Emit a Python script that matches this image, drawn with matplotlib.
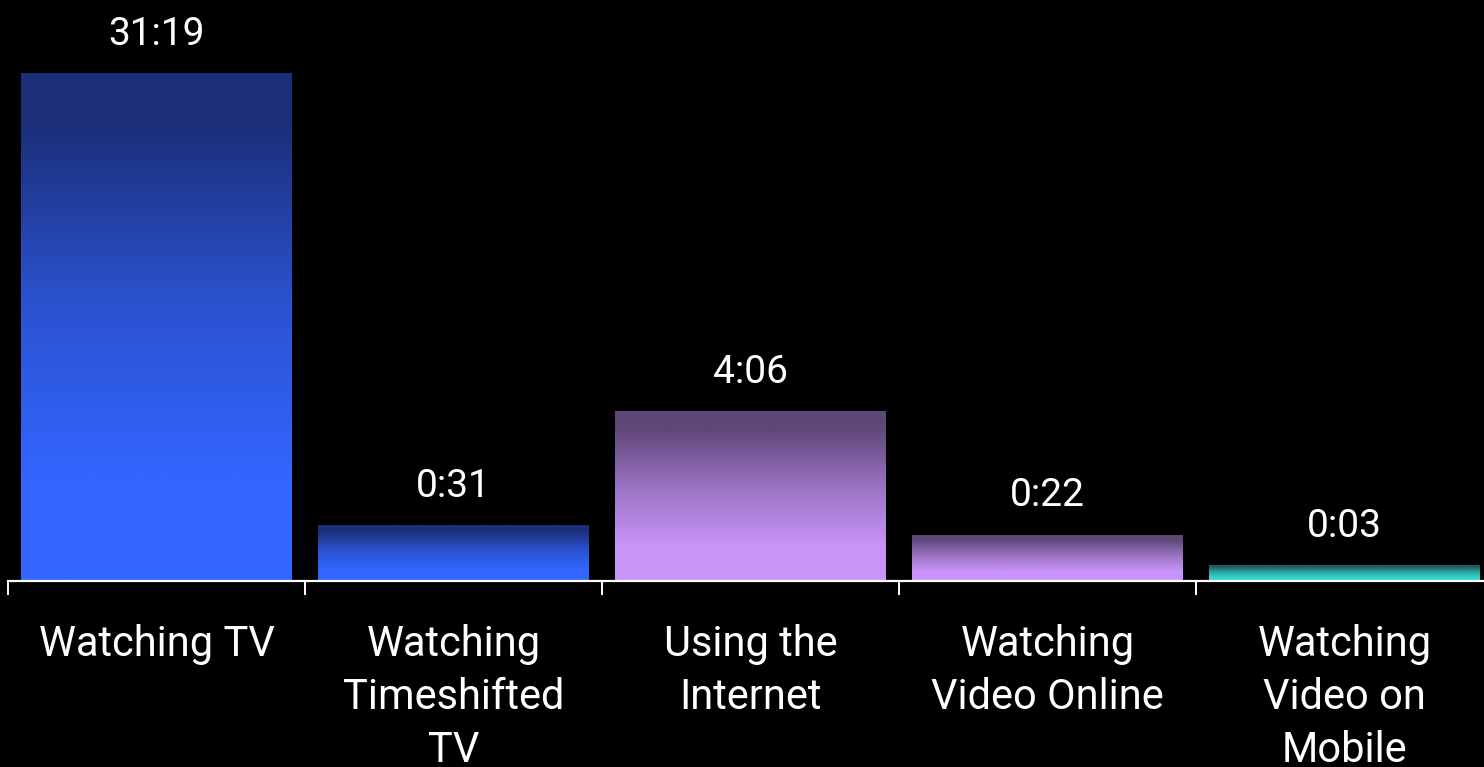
import matplotlib
matplotlib.use("Agg")
import matplotlib.pyplot as plt
import numpy as np
from matplotlib.colors import LinearSegmentedColormap

# weekly time spent, in minutes
categories = ["Watching TV", "Watching\nTimeshifted\nTV", "Using the\nInternet",
              "Watching\nVideo Online", "Watching\nVideo on\nMobile"]
minutes = [31 * 60 + 19, 31, 4 * 60 + 6, 22, 3]
bar_styles = ["blue", "blue", "purple", "purple", "teal"]

gradients = {
    "blue": ["#1b2f78", "#1b2f78", "#2b52d0", "#3366ff", "#3366ff"],
    "purple": ["#5f4778", "#5f4778", "#9a74c4", "#c894f8", "#c894f8"],
    "teal": ["#1d5c60", "#1d5c60", "#2aa8a4", "#33d6cc", "#33d6cc"],
}
stops = [0.0, 0.1, 0.45, 0.8, 1.0]


def fmt(m):
    return "%d:%02d" % (m // 60, m % 60)


p = 0.54
fig = plt.figure(figsize=(14.84, 7.67), dpi=100, facecolor="black")
ax = fig.add_axes([8 / 1484, (767 - 581) / 767, 1485 / 1484, 581 / 767])
ax.set_facecolor("black")
ax.set_yscale("function", functions=(lambda v: np.power(np.clip(v, 0, None), p),
                                     lambda t: np.power(np.clip(t, 0, None), 1 / p)))
ymax = (max(minutes) ** p * 581 / 507) ** (1 / p)
ax.set_ylim(0, ymax)
ax.set_xlim(-0.5, len(categories) - 0.5)

x = np.arange(len(categories))
bars = ax.bar(x, minutes, width=0.912, color="none", edgecolor="none")

fig.canvas.draw()
inv = ax.transAxes.inverted()
for rect, style, m in zip(bars, bar_styles, minutes):
    (x0, y0), (x1, y1) = inv.transform(rect.get_window_extent().get_points())
    cmap = LinearSegmentedColormap.from_list(style, list(zip(stops, gradients[style])))
    grad = np.linspace(0, 1, 256).reshape(-1, 1)
    ax.imshow(grad, cmap=cmap, aspect="auto", extent=[x0, x1, y0, y1],
              transform=ax.transAxes, interpolation="bilinear", zorder=2)
    ax.annotate(fmt(m), (rect.get_x() + rect.get_width() / 2, m),
                xytext=(0, 15), textcoords="offset points", ha="center", va="bottom",
                color="white", fontsize=28, family="Roboto")

for s in ["top", "right", "left"]:
    ax.spines[s].set_visible(False)
ax.spines["bottom"].set_color("white")
ax.spines["bottom"].set_linewidth(1.6)
ax.spines["bottom"].set_zorder(5)
ax.set_yticks([])
ax.set_xticks(np.arange(-0.5, len(categories), 1.0))
ax.set_xticklabels([])
ax.tick_params(axis="x", which="major", length=10, width=1.4, color="white", direction="out")
ax.set_xticks(x, minor=True)
ax.set_xticklabels(categories, minor=True, color="white", fontsize=30,
                   family="Roboto", linespacing=1.38, va="top")
ax.tick_params(axis="x", which="minor", length=0, pad=31)

fig.savefig("out.png", dpi=100, facecolor="black")
